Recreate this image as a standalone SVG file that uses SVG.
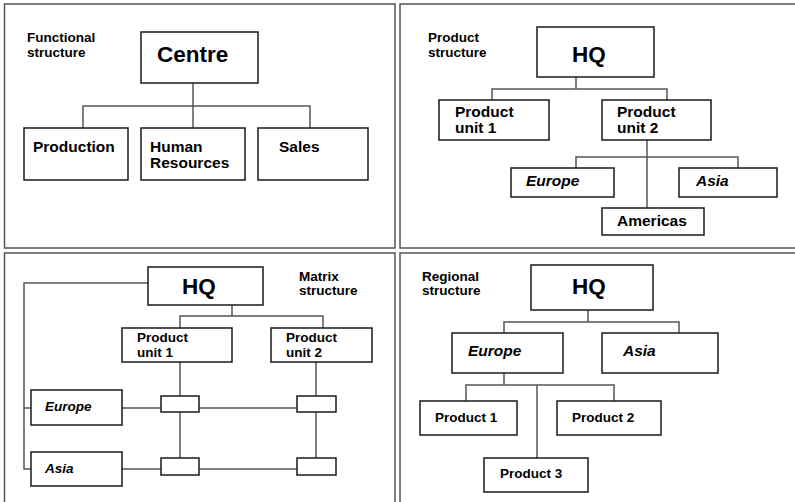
<svg xmlns="http://www.w3.org/2000/svg" width="795" height="502" viewBox="0 0 795 502">
  <style>
    .panel { fill: #fff; stroke: #555; stroke-width: 1.5; }
    .box { fill: #fff; stroke: #1a1a1a; stroke-width: 1.5; }
    .wire { fill: none; stroke: #555; stroke-width: 1.5; }
    text { font-family: "Liberation Sans", Arial, sans-serif; font-weight: bold; fill: #000; }
    .title { font-size: 13.5px; }
    .big { font-size: 22.5px; }
    .mid { font-size: 15.5px; }
    .small { font-size: 13.5px; }
    .it { font-style: italic; }
  </style>
  <rect width="795" height="502" fill="#fff"/>

  <!-- panels -->
  <g id="panels">
    <rect class="panel" x="4.5" y="4" width="390.5" height="244"/>
    <rect class="panel" x="400" y="4" width="400" height="244"/>
    <rect class="panel" x="4.5" y="253" width="390.5" height="260"/>
    <rect class="panel" x="400" y="253" width="400" height="260"/>
  </g>

  <!-- connectors -->
  <g id="connectors">
    <!-- functional -->
    <path class="wire" d="M193,83 V128 M83,128 V106 H310 V128"/>
    <!-- product -->
    <path class="wire" d="M576,77 V89 M492,100 V89 H667 V100"/>
    <path class="wire" d="M647,140 V208 M576,168 V157 H738 V168"/>
    <!-- matrix -->
    <path class="wire" d="M148,283 H24 V469 H31 M24,408 H31"/>
    <path class="wire" d="M232,305 V316 M180,328 V316 H323 V328"/>
    <path class="wire" d="M180,362 V396 M316,362 V396 M180,412 V458 M316,412 V458"/>
    <path class="wire" d="M122,408 H161 M199,408 H297 M122,469 H161 M199,469 H297"/>
    <!-- regional -->
    <path class="wire" d="M588,310 V322 M504,333 V322 H679 V333"/>
    <path class="wire" d="M504,373 V385 M466,401 V385 H614 V401 M537,385 V458"/>
  </g>

  <!-- functional structure -->
  <g id="functional-label">
    <text class="title" x="27" y="42">Functional</text>
    <text class="title" x="27" y="57">structure</text>
  </g>
  <g id="f-centre">
    <rect class="box" x="141" y="32" width="117" height="51"/>
    <text class="big" x="157" y="62">Centre</text>
  </g>
  <g id="f-production">
    <rect class="box" x="24" y="128" width="104" height="52"/>
    <text class="mid" x="33" y="152">Production</text>
  </g>
  <g id="f-hr">
    <rect class="box" x="141" y="128" width="104" height="52"/>
    <text class="mid" x="150" y="152">Human</text>
    <text class="mid" x="150" y="168">Resources</text>
  </g>
  <g id="f-sales">
    <rect class="box" x="258" y="128" width="110" height="52"/>
    <text class="mid" x="279" y="152">Sales</text>
  </g>

  <!-- product structure -->
  <g id="product-label">
    <text class="title" x="428" y="42">Product</text>
    <text class="title" x="428" y="57">structure</text>
  </g>
  <g id="p-hq">
    <rect class="box" x="537" y="27" width="117" height="50"/>
    <text class="big" x="572" y="62">HQ</text>
  </g>
  <g id="p-unit1">
    <rect class="box" x="439" y="100" width="110" height="40"/>
    <text class="mid" x="455" y="117">Product</text>
    <text class="mid" x="455" y="133">unit 1</text>
  </g>
  <g id="p-unit2">
    <rect class="box" x="602" y="100" width="109" height="40"/>
    <text class="mid" x="617" y="117">Product</text>
    <text class="mid" x="617" y="133">unit 2</text>
  </g>
  <g id="p-europe">
    <rect class="box" x="511" y="168" width="103" height="29"/>
    <text class="mid it" x="526" y="186">Europe</text>
  </g>
  <g id="p-asia">
    <rect class="box" x="679" y="168" width="98" height="29"/>
    <text class="mid it" x="696" y="186">Asia</text>
  </g>
  <g id="p-americas">
    <rect class="box" x="602" y="208" width="102" height="27"/>
    <text class="mid" x="617" y="226">Americas</text>
  </g>

  <!-- matrix structure -->
  <g id="matrix-label">
    <text class="title" x="299" y="281">Matrix</text>
    <text class="title" x="299" y="295">structure</text>
  </g>
  <g id="m-hq">
    <rect class="box" x="148" y="267" width="115" height="38"/>
    <text class="big" x="182" y="294">HQ</text>
  </g>
  <g id="m-unit1">
    <rect class="box" x="122" y="328" width="110" height="34"/>
    <text class="small" x="137" y="342">Product</text>
    <text class="small" x="137" y="357">unit 1</text>
  </g>
  <g id="m-unit2">
    <rect class="box" x="271" y="328" width="101" height="34"/>
    <text class="small" x="286" y="342">Product</text>
    <text class="small" x="286" y="357">unit 2</text>
  </g>
  <g id="m-europe">
    <rect class="box" x="31" y="390" width="91" height="35"/>
    <text class="small it" x="45" y="411">Europe</text>
  </g>
  <g id="m-asia">
    <rect class="box" x="31" y="452" width="91" height="34"/>
    <text class="small it" x="45" y="473">Asia</text>
  </g>
  <g id="m-cell-11"><rect class="box" x="161" y="396" width="38" height="16"/></g>
  <g id="m-cell-12"><rect class="box" x="297" y="396" width="39" height="16"/></g>
  <g id="m-cell-21"><rect class="box" x="161" y="458" width="38" height="17"/></g>
  <g id="m-cell-22"><rect class="box" x="297" y="458" width="39" height="17"/></g>

  <!-- regional structure -->
  <g id="regional-label">
    <text class="title" x="422" y="281">Regional</text>
    <text class="title" x="422" y="295">structure</text>
  </g>
  <g id="r-hq">
    <rect class="box" x="531" y="265" width="122" height="45"/>
    <text class="big" x="572" y="294">HQ</text>
  </g>
  <g id="r-europe">
    <rect class="box" x="452" y="333" width="111" height="40"/>
    <text class="mid it" x="468" y="356">Europe</text>
  </g>
  <g id="r-asia">
    <rect class="box" x="602" y="333" width="116" height="40"/>
    <text class="mid it" x="623" y="356">Asia</text>
  </g>
  <g id="r-product1">
    <rect class="box" x="420" y="401" width="97" height="34"/>
    <text class="small" x="435" y="422">Product 1</text>
  </g>
  <g id="r-product2">
    <rect class="box" x="557" y="401" width="104" height="34"/>
    <text class="small" x="572" y="422">Product 2</text>
  </g>
  <g id="r-product3">
    <rect class="box" x="484" y="458" width="104" height="34"/>
    <text class="small" x="500" y="478">Product 3</text>
  </g>
</svg>
